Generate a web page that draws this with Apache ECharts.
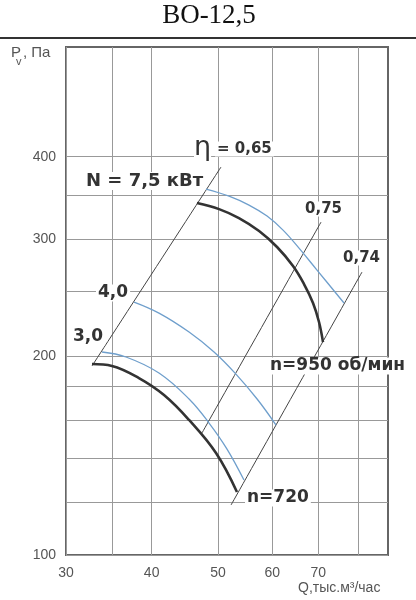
<!DOCTYPE html>
<html><head><meta charset="utf-8">
<script src="https://cdn.jsdelivr.net/npm/echarts@6/dist/echarts.min.js"></script>
<style>html,body{margin:0;padding:0;background:#fff}#c{width:416px;height:600px}</style>
</head><body><div id="c"></div>
<script>
// Axis ticks
const xTicks = [30, 35, 40, 50, 60, 70, 80];
const xLabels = [30, 40, 50, 60, 70];
const yTicks = [100, 120, 140, 160, 180, 200, 250, 300, 350, 400];
const yLabels = [100, 200, 300, 400];

// Efficiency lines (Q, Pv)
const eta065Q = [32.74, 50.5];
const eta065P = [193.1, 385.9];
const eta075Q = [47.37, 70.67];
const eta075P = [152.9, 318.6];
const eta074Q = [52.23, 81.09];
const eta074P = [119.0, 267.7];

// Pressure curves at n=950 and n=720
const n950Q = [46.58, 50.17, 53.64, 57.39, 60.96, 64.32, 66.74, 68.79, 70.19, 71.14];
const n950P = [340.4, 333.3, 323.0, 308.8, 292.1, 273.4, 256.8, 240.4, 225.0, 209.8];
const n720Q = [32.74, 35.01, 38.33, 41.70, 45.36, 49.66, 53.28];
const n720P = [194.4, 193.1, 185.1, 174.5, 160.0, 142.6, 124.5];

// Power curves
const N75Q = [48.01, 51.88, 55.48, 58.95, 62.20, 65.63, 69.72, 76.34];
const N75P = [357.4, 348.7, 338.0, 325.3, 309.8, 291.0, 269.6, 240.4];
const N40Q = [37.70, 41.00, 45.36, 49.33, 53.10, 57.01, 60.75];
const N40P = [241.2, 232.1, 217.3, 202.7, 187.7, 172.1, 157.2];
const N30Q = [33.86, 36.70, 41.00, 45.36, 48.51, 51.53, 54.55];
const N30P = [202.7, 199.2, 188.4, 172.1, 158.3, 144.6, 129.8];

function pairs(q, p) { return q.map((v, i) => [v, p[i]]); }

const chart = echarts.init(document.getElementById('c'), null, {renderer: 'canvas'});

const black = {color: '#333', width: 2.6};
const blue = {color: '#6f9fcc', width: 1.3};
const thin = {color: '#444', width: 1};

function line(name, q, p, style, z) {
  return {
    name: name, type: 'line', data: pairs(q, p), smooth: 0.4,
    showSymbol: false, symbol: 'none', lineStyle: style, z: z, silent: true
  };
}

function txt(text, x, y, size, bg) {
  return {
    type: 'text', x: x, y: y, z: 100,
    style: {
      text: text, font: 'bold ' + size + 'px "DejaVu Sans"', fill: '#333',
      textAlign: 'left', textVerticalAlign: 'middle', align: 'left', verticalAlign: 'middle',
      backgroundColor: bg ? '#fff' : null, padding: bg ? [0, 2] : 0
    }
  };
}

chart.setOption({
  animation: false,
  grid: {left: 66, right: 28, top: 47, bottom: 45, show: true, borderColor: '#666', borderWidth: 2},
  xAxis: {
    type: 'log', logBase: 10, min: 30, max: 88.5,
    axisLine: {show: false},
    axisTick: {show: false, customValues: xTicks},
    axisLabel: {customValues: xLabels, fontSize: 14, color: '#555', margin: 11, fontFamily: 'Liberation Sans'},
    splitLine: {show: true, lineStyle: {color: '#999', width: 1}}
  },
  yAxis: {
    type: 'log', logBase: 10, min: 100, max: 586,
    axisLine: {show: false},
    axisTick: {show: false, customValues: yTicks},
    axisLabel: {customValues: yLabels, fontSize: 14, color: '#555', margin: 10, fontFamily: 'Liberation Sans'},
    splitLine: {show: true, lineStyle: {color: '#999', width: 1}}
  },
  series: [
    line('η=0,65', eta065Q, eta065P, thin, 2),
    line('η=0,75', eta075Q, eta075P, thin, 2),
    line('η=0,74', eta074Q, eta074P, thin, 2),
    line('N=3,0', N30Q, N30P, blue, 3),
    line('N=4,0', N40Q, N40P, blue, 3),
    line('N=7,5', N75Q, N75P, blue, 3),
    line('n=720', n720Q, n720P, black, 4),
    line('n=950', n950Q, n950P, black, 4)
  ],
  graphic: [
    {type: 'text', x: 209, y: 16, style: {text: 'ВО-12,5', font: '27px "Liberation Serif"', fill: '#111',
      textAlign: 'center', textVerticalAlign: 'middle', align: 'center', verticalAlign: 'middle'}},
    {type: 'line', shape: {x1: 0, y1: 38, x2: 416, y2: 38}, style: {stroke: '#333', lineWidth: 2}},
    {type: 'text', x: 11, y: 53, style: {text: 'P', font: '15px "Liberation Sans"', fill: '#555',
      textAlign: 'left', textVerticalAlign: 'middle', align: 'left', verticalAlign: 'middle'}},
    {type: 'text', x: 16, y: 62, style: {text: 'v', font: '11px "Liberation Sans"', fill: '#555',
      textAlign: 'left', textVerticalAlign: 'middle', align: 'left', verticalAlign: 'middle'}},
    {type: 'text', x: 23, y: 53, style: {text: ', Па', font: '15px "Liberation Sans"', fill: '#555',
      textAlign: 'left', textVerticalAlign: 'middle', align: 'left', verticalAlign: 'middle'}},
    {type: 'text', x: 298, y: 588, style: {text: 'Q,тыс.м³/час', font: '14px "Liberation Sans"', fill: '#555',
      textAlign: 'left', textVerticalAlign: 'middle', align: 'left', verticalAlign: 'middle'}},
    {type: 'text', x: 194, y: 148, z: 100, style: {text: 'η', font: '27px "DejaVu Sans"', fill: '#333',
      textAlign: 'left', textVerticalAlign: 'middle', align: 'left', verticalAlign: 'middle',
      backgroundColor: '#fff'}},
    txt('= 0,65', 215, 149, 15, true),
    txt('N = 7,5 кВт', 84, 181, 18, true),
    txt('0,75', 303, 209, 15, true),
    txt('0,74', 341, 258, 15, true),
    txt('4,0', 96, 293, 17, true),
    txt('3,0', 71, 337, 17, true),
    txt('n=950 об/мин', 268, 366, 17, true),
    txt('n=720', 245, 498, 17, true)
  ]
});
</script>
</body></html>
